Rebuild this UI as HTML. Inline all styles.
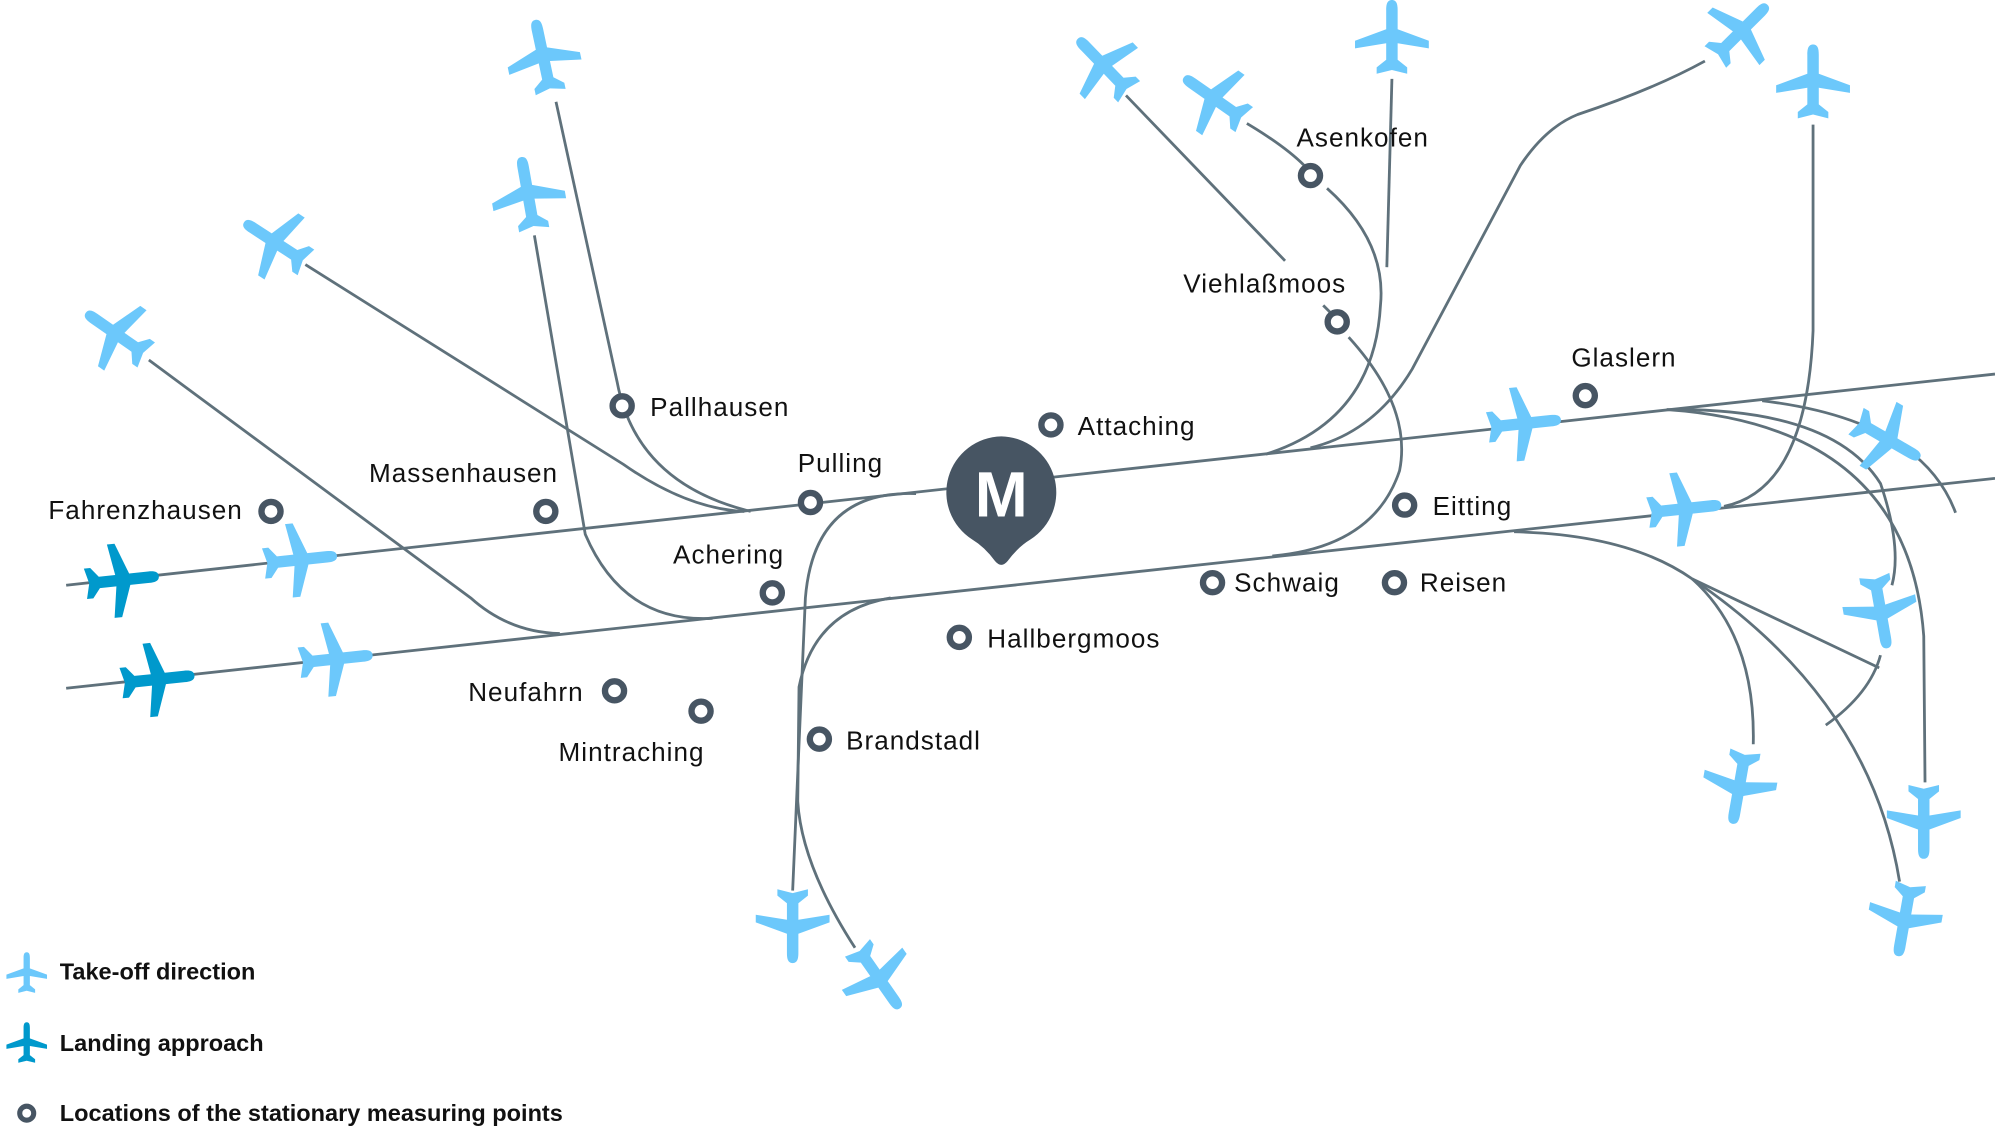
<!DOCTYPE html>
<html><head><meta charset="utf-8"><style>html,body{margin:0;padding:0;background:#fff}svg{display:block}</style></head>
<body>
<svg width="1995" height="1131" viewBox="0 0 1568 889" preserveAspectRatio="none" xmlns="http://www.w3.org/2000/svg">
<defs>
<path id="pl" d="M0,-30 C4,-30 4.5,-26 4.5,-22 L4.5,-7 L29,2 L29,8 L4.5,4 L4.5,17 L12,23 L12,28 L0,25 L-12,28 L-12,23 L-4.5,17 L-4.5,4 L-29,8 L-29,2 L-4.5,-7 L-4.5,-22 C-4.5,-26 -4,-30 0,-30Z"/>
</defs>
<g fill="none" stroke="#5f717b" stroke-width="2.2">
<path d="M52,460 L1568,294"/>
<path d="M52,541 L1568,376"/>
<path d="M437,80 L485,300 Q500,380 590,402"/>
<path d="M420,185 L460,420 Q490,490 560,486"/>
<path d="M240,208 L490,365 Q540,400 585,402"/>
<path d="M117,283 L370,470 Q400,497 440,498"/>
<path d="M885,75 L1010,205"/>
<path d="M1040,240 L1048,248"/>
<path d="M1060,265 Q1110,320 1100,370 Q1080,430 1000,437"/>
<path d="M980,97 Q1010,115 1025,130"/>
<path d="M1043,148 Q1090,190 1085,240 Q1080,330 995,357"/>
<path d="M1094,62 L1090,210"/>
<path d="M1340,48 Q1300,70 1240,90 Q1215,100 1195,130 L1110,290 Q1080,340 1030,352"/>
<path d="M1425,98 L1425,260 Q1420,385 1355,398"/>
<path d="M1310,322 Q1440,320 1478,380 Q1495,430 1487,460"/>
<path d="M1385,315 Q1510,330 1537,403"/>
<path d="M1310,322 Q1500,335 1512,500 L1513,615"/>
<path d="M1190,418 Q1280,420 1330,455 L1477,525"/>
<path d="M1330,455 Q1380,500 1378,585"/>
<path d="M1330,455 Q1470,550 1493,693"/>
<path d="M1478,515 Q1470,545 1435,570"/>
<path d="M720,388 Q640,385 633,470 L623,700"/>
<path d="M700,470 Q640,480 628,540 L627,630 Q630,680 672,745"/>
</g>
<g fill="#6cc8fb">
<use href="#pl" transform="translate(427,45) rotate(-12)"/>
<use href="#pl" transform="translate(415,153) rotate(-10)"/>
<use href="#pl" transform="translate(217,191) rotate(-57)"/>
<use href="#pl" transform="translate(92,263) rotate(-55)"/>
<use href="#pl" transform="translate(868,52) rotate(-44)"/>
<use href="#pl" transform="translate(955,78) rotate(-55)"/>
<use href="#pl" transform="translate(1094,30)"/>
<use href="#pl" transform="translate(1368,25) rotate(45)"/>
<use href="#pl" transform="translate(1425,65)"/>
<use href="#pl" transform="translate(1197,333) rotate(84)"/>
<use href="#pl" transform="translate(1483,345) rotate(120)"/>
<use href="#pl" transform="translate(1323,400) rotate(84)"/>
<use href="#pl" transform="translate(1478,480) rotate(170)"/>
<use href="#pl" transform="translate(1367,618) rotate(190)"/>
<use href="#pl" transform="translate(1512,645) rotate(180)"/>
<use href="#pl" transform="translate(1497,722) rotate(190)"/>
<use href="#pl" transform="translate(623,727) rotate(180)"/>
<use href="#pl" transform="translate(690,768) rotate(145)"/>
<use href="#pl" transform="translate(235,440) rotate(84)"/>
<use href="#pl" transform="translate(263,518) rotate(84)"/>
<use href="#pl" transform="translate(21,765) scale(0.55)"/>
</g>
<g fill="#0099cc">
<use href="#pl" transform="translate(95,456) rotate(84)"/>
<use href="#pl" transform="translate(123,534) rotate(84)"/>
<use href="#pl" transform="translate(21,820) scale(0.55)"/>
</g>
<g fill="#fff" stroke="#475563" stroke-width="5">
<circle cx="213" cy="402" r="7.5"/><circle cx="429" cy="402" r="7.5"/>
<circle cx="489" cy="319" r="7.5"/><circle cx="637" cy="395" r="7.5"/>
<circle cx="607" cy="466" r="7.5"/><circle cx="483" cy="543" r="7.5"/>
<circle cx="551" cy="559" r="7.5"/><circle cx="644" cy="581" r="7.5"/>
<circle cx="754" cy="501" r="7.5"/><circle cx="826" cy="334" r="7.5"/>
<circle cx="1030" cy="138" r="7.5"/><circle cx="1051" cy="253" r="7.5"/>
<circle cx="1246" cy="311" r="7.5"/><circle cx="1104" cy="397" r="7.5"/>
<circle cx="953" cy="458" r="7.5"/><circle cx="1096" cy="458" r="7.5"/>
<circle cx="21" cy="875" r="5.5" stroke-width="4"/>
</g>
<path d="M787,343 A44,44 0 0 1 810,424 Q800,430 792,441 Q787,447 782,441 Q774,430 764,424 A44,44 0 0 1 787,343Z" fill="#475563"/>
<text x="787" y="406" text-anchor="middle" font-family="Liberation Sans, sans-serif" font-size="50" font-weight="bold" fill="#fff">M</text>
<g font-family="Liberation Sans, sans-serif" font-size="20.5" fill="#111" letter-spacing="0.8">
<text x="38" y="408">Fahrenzhausen</text>
<text x="290" y="379">Massenhausen</text>
<text x="511" y="327">Pallhausen</text>
<text x="627" y="371">Pulling</text>
<text x="529" y="443">Achering</text>
<text x="368" y="551">Neufahrn</text>
<text x="439" y="598">Mintraching</text>
<text x="665" y="589">Brandstadl</text>
<text x="776" y="509">Hallbergmoos</text>
<text x="847" y="342">Attaching</text>
<text x="1019" y="115">Asenkofen</text>
<text x="930" y="230">Viehlaßmoos</text>
<text x="1235" y="288">Glaslern</text>
<text x="1126" y="405">Eitting</text>
<text x="970" y="465">Schwaig</text>
<text x="1116" y="465">Reisen</text>
</g>
<g font-family="Liberation Sans, sans-serif" font-size="18.5" font-weight="bold" fill="#111">
<text x="47" y="770">Take-off direction</text>
<text x="47" y="826">Landing approach</text>
<text x="47" y="881">Locations of the stationary measuring points</text>
</g>
</svg>
</body></html>
